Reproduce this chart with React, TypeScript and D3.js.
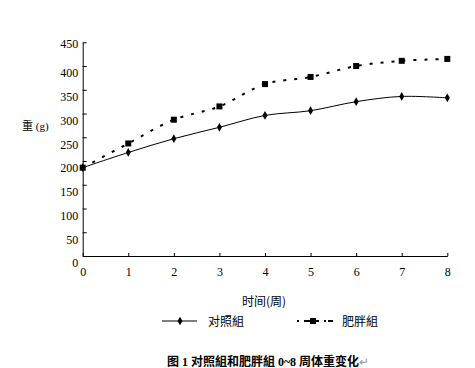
import React, { useEffect, useRef } from 'react';
import * as d3 from 'd3';

const weeks = [0, 1, 2, 3, 4, 5, 6, 7, 8];
const controlWeights = [186, 218, 247, 271, 296, 306, 325, 336, 333];
const obeseWeights = [186, 237, 287, 315, 362, 377, 400, 411, 415];
const yTicks = [0, 50, 100, 150, 200, 250, 300, 350, 400, 450];
const seriesNames = ['对照組', '肥胖組'];

const App = () => {
  const svgRef = useRef<SVGSVGElement>(null);

  useEffect(() => {
    const svg = d3.select(svgRef.current);
    svg.selectAll('*').remove();

    const x = d3.scaleLinear().domain([0, 8]).range([82.7, 447.3]);
    const y = d3.scaleLinear().domain([0, 450]).range([256, 42.3]);
    const serif = '"Liberation Serif", "Noto Sans CJK SC", serif';
    const cjk = '"Noto Sans CJK SC", sans-serif';

    // y axis
    const yAxis = svg
      .append('g')
      .attr('transform', `translate(${x(0)},0)`)
      .call(d3.axisLeft(y).tickValues(yTicks).tickSizeInner(-4).tickSizeOuter(0));
    yAxis.attr('font-family', null).attr('font-size', null);
    yAxis.selectAll('text')
      .attr('x', -4.5)
      .attr('dy', '0.9em')
      .style('font-family', serif)
      .style('font-size', '12px')
      .attr('fill', '#000');
    yAxis.select('.domain').attr('stroke', '#000');
    yAxis.selectAll('.tick line').attr('stroke', '#000');
    yAxis.selectAll('.tick').filter((d: any) => d === 450).select('text').attr('dy', '0.4em');

    // x axis
    const xAxis = svg
      .append('g')
      .attr('transform', `translate(0,${y(0)})`)
      .call(d3.axisBottom(x).tickValues(weeks).tickSizeInner(-3).tickSizeOuter(0));
    xAxis.attr('font-family', null).attr('font-size', null);
    xAxis.selectAll('text')
      .attr('y', 11)
      .style('font-family', serif)
      .style('font-size', '12px')
      .attr('fill', '#000');
    xAxis.select('.domain').attr('stroke', '#000');
    xAxis.selectAll('.tick line').attr('stroke', '#000');

    const line = d3
      .line<number>()
      .x((_, i) => x(weeks[i]))
      .y((d) => y(d))
      .curve(d3.curveCatmullRom.alpha(0.5));

    // obese series, dashed with squares
    svg.append('path')
      .attr('d', line(obeseWeights))
      .attr('fill', 'none')
      .attr('stroke', '#000')
      .attr('stroke-width', 2)
      .attr('stroke-dasharray', '3,8');
    svg.selectAll('.sq')
      .data(obeseWeights)
      .join('rect')
      .attr('x', (_, i) => x(weeks[i]) - 3)
      .attr('y', (d) => y(d) - 3)
      .attr('width', 6)
      .attr('height', 6)
      .attr('fill', '#000');

    // control series, solid with diamonds
    svg.append('path')
      .attr('d', line(controlWeights))
      .attr('fill', 'none')
      .attr('stroke', '#000')
      .attr('stroke-width', 1);
    const diamond = d3.symbol().type(d3.symbolDiamond).size(22);
    svg.selectAll('.dm')
      .data(controlWeights)
      .join('path')
      .attr('d', diamond)
      .attr('transform', (d, i) => `translate(${x(weeks[i])},${y(d)})`)
      .attr('fill', '#000');

    // axis titles
    svg.append('text')
      .attr('x', 264)
      .attr('y', 306)
      .attr('text-anchor', 'middle')
      .style('font-family', cjk)
      .style('font-size', '12px')
      .text('时间(周)');
    svg.append('text')
      .attr('x', 22)
      .attr('y', 130)
      .style('font-family', serif)
      .style('font-size', '11px')
      .text('重 (g)');

    // legend
    const ly = 321;
    svg.append('line').attr('x1', 162).attr('x2', 197).attr('y1', ly).attr('y2', ly)
      .attr('stroke', '#000');
    svg.append('path').attr('d', diamond).attr('transform', `translate(180,${ly})`);
    svg.append('text').attr('x', 208).attr('y', ly + 5)
      .style('font-family', cjk).style('font-size', '12px').text(seriesNames[0]);
    svg.append('line').attr('x1', 297).attr('x2', 334).attr('y1', ly).attr('y2', ly)
      .attr('stroke', '#000').attr('stroke-width', 2).attr('stroke-dasharray', '2,5,6,3,6,5,2');
    svg.append('rect').attr('x', 310).attr('y', ly - 3).attr('width', 6).attr('height', 6);
    svg.append('text').attr('x', 342).attr('y', ly + 5)
      .style('font-family', cjk).style('font-size', '12px').text(seriesNames[1]);

    // caption
    const cap = svg.append('text')
      .attr('x', 268)
      .attr('y', 366)
      .attr('text-anchor', 'middle')
      .style('font-family', serif)
      .style('font-weight', 'bold')
      .style('font-size', '12px');
    cap.append('tspan').text('图 1 对照組和肥胖組 0~8 周体重变化');
    cap.append('tspan').attr('fill', '#999').style('font-weight', 'normal').text('↵');
  }, []);

  return (
    <svg
      ref={svgRef}
      width={475}
      height={368}
      style={{ position: 'absolute', left: 0, top: 0, background: '#fff' }}
    />
  );
};

export default App;
